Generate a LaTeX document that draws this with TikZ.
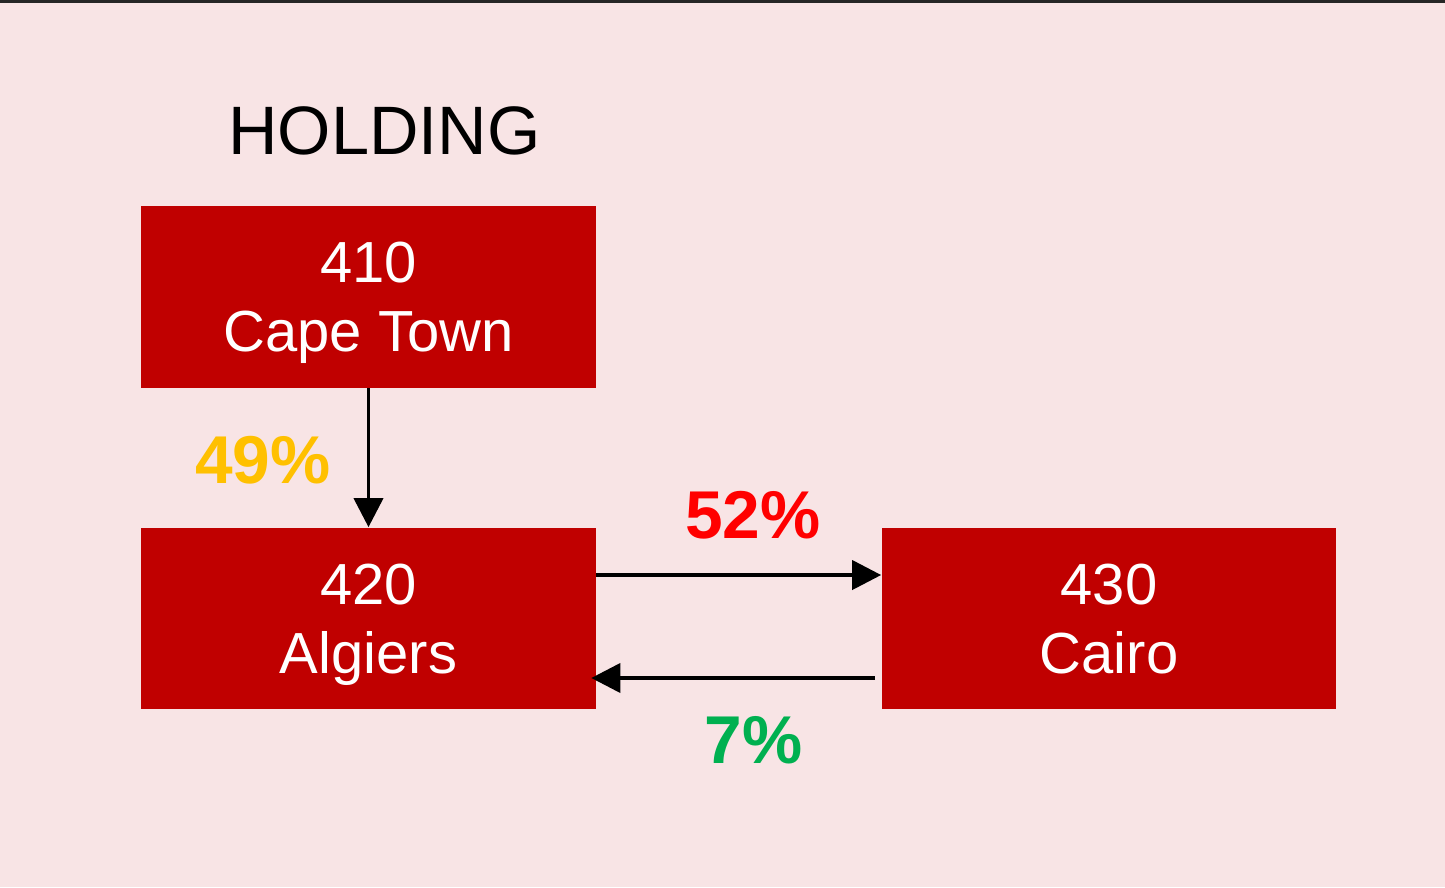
\documentclass[tikz,border=0pt]{standalone}
\usepackage{fontspec}
\setmainfont{Liberation Sans}
\usetikzlibrary{arrows.meta}
\definecolor{bgpink}{HTML}{F8E4E5}
\definecolor{boxred}{HTML}{C00000}
\definecolor{pctyellow}{HTML}{FFC000}
\definecolor{pctred}{HTML}{FF0000}
\definecolor{pctgreen}{HTML}{00B050}

\begin{document}
\begin{tikzpicture}[
  x=0.02cm, y=-0.02cm,
  ent/.style={rectangle, fill=boxred, text=white, minimum width=9.1cm, minimum height=3.64cm,
    inner sep=0pt, align=center, text depth=0pt, font=\fontsize{33}{39}\selectfont},
  e/.style={-{Triangle[length=16.5pt,width=16.5pt]}, line width=2.2pt},
  pct/.style={anchor=base, font=\fontsize{38.5}{39}\selectfont\bfseries}
]

% --- canvas ---
\fill[bgpink] (0,0) rectangle (1445,887);
\fill[black!85] (0,0) rectangle (1445,3);

% --- title ---
\node[anchor=base, font=\fontsize{39}{39}\selectfont] (hold) at (384.5,154) {HOLDING};

% --- entities ---
\node[ent] (cpt) at (368.5,297) {410\\Cape Town};
\node[ent] (alg) at (368.5,618.5) {420\\Algiers};
\node[ent] (cai) at (1109,618.5) {430\\Cairo};

% --- holdings ---
\draw[e] (cpt.south) -- (alg.north);
\draw[e] ([yshift=0.87cm]alg.east) -- ([yshift=0.87cm]cai.west);
\draw[e] ([xshift=-0.12cm,yshift=-1.19cm]cai.west) -- ([xshift=-0.1cm,yshift=-1.19cm]alg.east);

% --- percentages ---
\node[pct, text=pctyellow] (p49) at (263,483) {49\%};
\node[pct, text=pctred] (p52) at (753,538) {52\%};
\node[pct, text=pctgreen] (p7) at (753.5,763) {7\%};

\end{tikzpicture}
\end{document}
